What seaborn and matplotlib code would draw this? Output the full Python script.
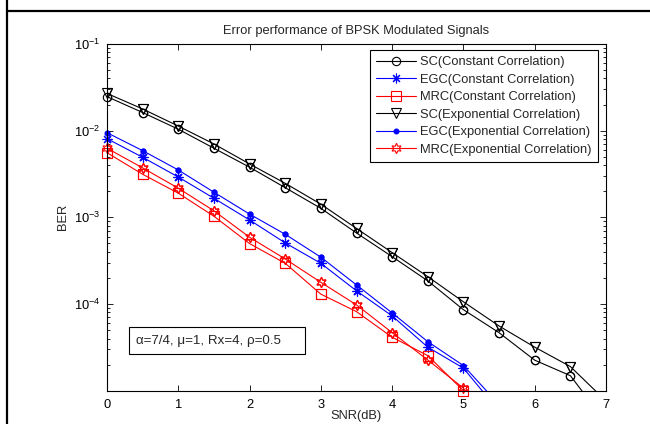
import numpy as np
import pandas as pd
import seaborn as sns
import matplotlib
matplotlib.use("Agg")
import matplotlib.pyplot as plt
from matplotlib.lines import Line2D
from matplotlib.patches import Rectangle
from matplotlib.ticker import LogLocator, NullFormatter

# ---------------- data ----------------
snr_sc = [0, 0.5, 1, 1.5, 2, 2.5, 3, 3.5, 4, 4.5, 5, 5.5, 6, 6.5, 7]
sc_const = [0.0247, 0.0162, 0.0104, 0.00627, 0.00379, 0.00220, 0.00127, 6.6e-4,
            3.52e-4, 1.85e-4, 8.6e-5, 4.67e-5, 2.25e-5, 1.49e-5, 4.3e-6]
sc_exp = [0.0269, 0.0178, 0.0113, 0.00703, 0.00413, 0.00247, 0.00142, 7.45e-4,
          3.92e-4, 2.07e-4, 1.06e-4, 5.58e-5, 3.18e-5, 1.9e-5, 7.6e-6]

snr_div = [0, 0.5, 1, 1.5, 2, 2.5, 3, 3.5, 4, 4.5, 5, 5.5]
egc_const = [0.00809, 0.00493, 0.00292, 0.00166, 9.33e-4, 5.07e-4, 2.95e-4,
             1.42e-4, 7.29e-5, 3.18e-5, 1.82e-5, 5.8e-6]
egc_exp = [0.00948, 0.00588, 0.00352, 0.00195, 1.09e-3, 6.38e-4, 3.47e-4,
           1.66e-4, 7.89e-5, 3.68e-5, 1.95e-5, 6.9e-6]
mrc_const = [0.00557, 0.00314, 0.0019, 0.00103, 4.98e-4, 2.95e-4, 1.3e-4,
             8.17e-5, 4.14e-5, 2.54e-5, 1.0e-5, 3.5e-6]
mrc_exp = [0.00627, 0.00372, 0.00217, 0.00119, 5.89e-4, 3.31e-4, 1.78e-4,
           9.77e-5, 4.68e-5, 2.26e-5, 1.07e-5, 3.5e-6]

labels = ["SC(Constant Correlation)", "EGC(Constant Correlation)",
          "MRC(Constant Correlation)", "SC(Exponential Correlation)",
          "EGC(Exponential Correlation)", "MRC(Exponential Correlation)"]
x_ticks = [0, 1, 2, 3, 4, 5, 6, 7]
y_ticks = [1e-4, 1e-3, 1e-2, 1e-1]
title = "Error performance of BPSK Modulated Signals"
xlabel = "SNR(dB)"
ylabel = "BER"
note = "α=7/4, μ=1, Rx=4, ρ=0.5"

series = [
    (snr_sc, sc_const), (snr_div, egc_const), (snr_div, mrc_const),
    (snr_sc, sc_exp), (snr_div, egc_exp), (snr_div, mrc_exp),
]
styles = [
    dict(color="k", marker="o", ms=6, mfc="none"),
    dict(color="b", marker=(8, 2, 0), ms=7, mfc="none"),
    dict(color="r", marker="s", ms=7, mfc="none"),
    dict(color="k", marker="v", ms=6.5, mfc="none"),
    dict(color="b", marker="o", ms=3.5, mfc="b"),
    dict(color="r", marker=(6, 1, 0), ms=7.5, mfc="none"),
]

FS = 9.3

# ---------------- style ----------------
sns.set_style("ticks")
plt.rcParams["font.family"] = ["Liberation Sans", "DejaVu Sans"]
plt.rcParams["font.size"] = FS
plt.rcParams["mathtext.fontset"] = "custom"
plt.rcParams["mathtext.rm"] = "Liberation Sans"
plt.rcParams["mathtext.it"] = "Liberation Sans:italic"

fig = plt.figure(figsize=(6.5, 4.24), dpi=100)
fig.patch.set_facecolor("white")
ax = fig.add_axes([107 / 650, 1 - 390.7 / 424, 499 / 650, 346.7 / 424])
ax.set_facecolor("white")

ymin, ymax = 1e-5, 1e-1
for (xs, ys), lab, st in zip(series, labels, styles):
    df = pd.DataFrame({"x": xs, "y": ys})
    sns.lineplot(data=df, x="x", y="y", ax=ax, label=lab, sort=False,
                 estimator=None, color=st["color"], linewidth=0.8,
                 marker=st["marker"], markersize=st["ms"],
                 markerfacecolor=st["mfc"], markeredgecolor=st["color"],
                 markeredgewidth=0.8)
    # markers lying on the lower border are not cut (as in the reference)
    sel = df[df["y"] >= ymin * 0.97]
    ax.plot(sel["x"], sel["y"], linestyle="none", marker=st["marker"],
            markersize=st["ms"], markerfacecolor=st["mfc"],
            markeredgecolor=st["color"], markeredgewidth=0.8, clip_on=False)

ax.set_yscale("log")
ax.set_xlim(0, 7)
ax.set_ylim(ymin, ymax)
ax.set_xticks(x_ticks)
ax.set_xticklabels([str(v) for v in x_ticks])
ax.set_yticks(y_ticks)
ax.yaxis.set_minor_locator(LogLocator(base=10, subs=np.arange(2, 10)))
ax.yaxis.set_minor_formatter(NullFormatter())
ax.tick_params(which="both", direction="in", top=True, right=True,
               width=0.6, labelsize=FS, colors="k")
ax.tick_params(which="major", length=4, pad=5)
ax.tick_params(axis="x", which="major", pad=6)
ax.tick_params(which="minor", length=2.5)
for sp in ax.spines.values():
    sp.set_visible(True)
    sp.set_linewidth(0.8)
    sp.set_color("k")

ax.set_title(title, fontsize=FS, pad=7)
ax.set_xlabel(xlabel, fontsize=FS, labelpad=-1)
ax.set_ylabel(ylabel, fontsize=FS, labelpad=3)

leg = ax.legend(loc="upper right", bbox_to_anchor=(0.984, 0.983),
                borderaxespad=0, frameon=True, fancybox=False,
                handlelength=3.1, handletextpad=0.3, labelspacing=0.42,
                borderpad=0.5, fontsize=FS)
leg.get_frame().set_edgecolor("k")
leg.get_frame().set_linewidth(0.8)
leg.get_frame().set_alpha(1)

# annotation box
ax.add_patch(Rectangle((0.0447, 0.105), 0.352, 0.078, transform=ax.transAxes,
                       facecolor="white", edgecolor="k", linewidth=0.8,
                       zorder=5))
ax.text(0.058, 0.144, note, transform=ax.transAxes, fontsize=FS + 0.3,
        va="center", ha="left", zorder=6)

# outer frame lines of the surrounding cell
fig.add_artist(Line2D([6.8 / 650, 6.8 / 650], [0, 1], transform=fig.transFigure,
                      color="k", linewidth=1.6))
fig.add_artist(Line2D([6.8 / 650, 1], [1 - 11 / 424, 1 - 11 / 424],
                      transform=fig.transFigure, color="k", linewidth=1.6))

fig.savefig("out.png", dpi=100, facecolor="white")
